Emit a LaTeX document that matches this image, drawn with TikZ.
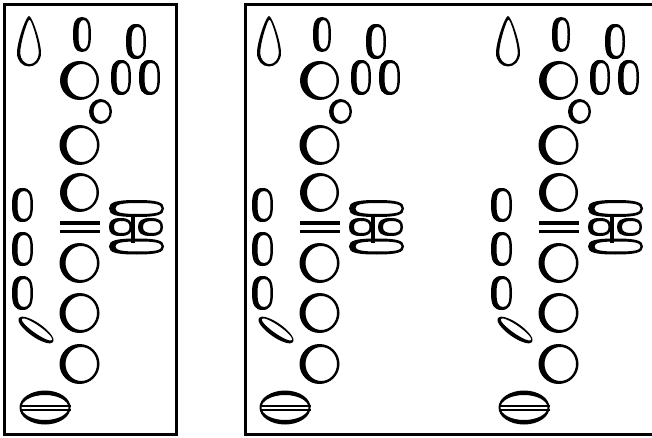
\documentclass[tikz,border=0pt]{standalone}
\newcommand\kring[7]{\fill[even odd rule] (#1,#2) ellipse [x radius=#3, y radius=#4] ({#1+(#5-#6)/2},#2) ellipse [x radius={#3-(#5+#6)/2}, y radius={#4-#7}];}
\newcommand\sep[5]{({#1+#3},#2) .. controls ({#1+#3},{#2+#5*#4}) and ({#1+#5*#3},{#2+#4}) .. (#1,{#2+#4}) .. controls ({#1-#5*#3},{#2+#4}) and ({#1-#3},{#2+#5*#4}) .. ({#1-#3},#2) .. controls ({#1-#3},{#2-#5*#4}) and ({#1-#5*#3},{#2-#4}) .. (#1,{#2-#4}) .. controls ({#1+#5*#3},{#2-#4}) and ({#1+#3},{#2-#5*#4}) .. ({#1+#3},#2) -- cycle}
\newcommand\soval[8]{%
 \pgfmathsetmacro\kcx{#1+(#5-#6)/2}%
 \pgfmathsetmacro\krx{#3-(#5+#6)/2}%
 \pgfmathsetmacro\kry{#4-#7}%
 \fill[even odd rule] \sep{#1}{#2}{#3}{#4}{#8} \sep{\kcx}{#2}{\krx}{\kry}{#8};}
\begin{document}
\begin{tikzpicture}[x=1pt,y=-1pt]
\useasboundingbox (0,0) rectangle (652,438);
\tikzset{boxline/.style={line width=3pt,line join=miter}}
\draw[boxline] (4.5,4.5) rectangle (176.5,434.5);
\draw[boxline] (660,4.5) -- (245.5,4.5) -- (245.5,434.5) -- (660,434.5);
\foreach \dx in {0,240,479}{
\begin{scope}[shift={(\dx,0)}]
% teardrop
\fill[even odd rule] (29,16) .. controls (26,16) and (17,42) .. (17,53) .. controls (17,61) and (22.5,66.5) .. (29,66.5) .. controls (35.5,66.5) and (41,61) .. (41,53) .. controls (41,42) and (32,16) .. (29,16) -- cycle
 (29.5,19.5) .. controls (27.5,19.5) and (20.2,43) .. (20.2,53) .. controls (20.2,59) and (24.5,64.2) .. (29.5,64.2) .. controls (34.5,64.2) and (38.8,59) .. (38.8,53) .. controls (38.8,43) and (31.5,19.5) .. (29.5,19.5) -- cycle;
% upper ovals
\soval{82}{34.5}{9}{17.5}{5.5}{2.5}{3}{0.72}
\soval{136}{41.5}{10}{17.5}{5.5}{2.5}{3}{0.72}
\soval{121}{77.5}{10}{17.5}{5.5}{2.5}{3}{0.72}
\soval{149.5}{77.5}{10.5}{17.5}{5.5}{2.5}{3}{0.72}
% main circles
\kring{79.5}{80.5}{19.5}{19.5}{7.5}{2.5}{3}
\kring{100.5}{111.5}{11.5}{12.5}{4.5}{2.5}{3}
\kring{79.5}{145}{20}{20}{7}{2.5}{3}
\kring{79.5}{192.5}{19.5}{19.5}{7}{2.5}{3}
\kring{79.5}{263}{20}{20}{6}{2.5}{3}
\kring{79.5}{313}{20}{20}{6}{2.5}{3}
\kring{79.5}{364}{20}{20}{6}{2.5}{3}
% side ovals
\soval{22.5}{205}{10.5}{17}{5.5}{2.5}{3}{0.72}
\soval{22.5}{249}{10.5}{17}{5.5}{2.5}{3}{0.72}
\soval{22.5}{293}{10.5}{17}{5.5}{2.5}{3}{0.72}
% palm / trill keys
\soval{136.5}{208.5}{27.5}{8.5}{6.5}{2.5}{3}{0.75}
\soval{120.5}{227}{11.5}{9}{5}{2.5}{3}{0.7}
\soval{150.5}{227}{12.5}{9}{5}{2.5}{3}{0.7}
\soval{136.5}{246.5}{27.5}{8}{6.5}{2.5}{3}{0.75}
\fill (131,214) rectangle (135,243);
% equals bars
\fill (60,221) rectangle (100,224.5);
\fill (60,229.5) rectangle (100,233);
% tilted oval
\begin{scope}[rotate around={-35:(36,330)}]
\fill[even odd rule] (36,330) ellipse [x radius=21, y radius=7] (36.5,329) ellipse [x radius=18.5, y radius=4];
\end{scope}
% bottom key
\fill[even odd rule] (45,407.5) ellipse [x radius=25.5, y radius=17] (45,407.5) ellipse [x radius=23.5, y radius=12.5];
\fill (20,404.8) rectangle (70.5,406.8);
\fill (20,409) rectangle (70.5,411);
\end{scope}
}
\end{tikzpicture}
\end{document}
